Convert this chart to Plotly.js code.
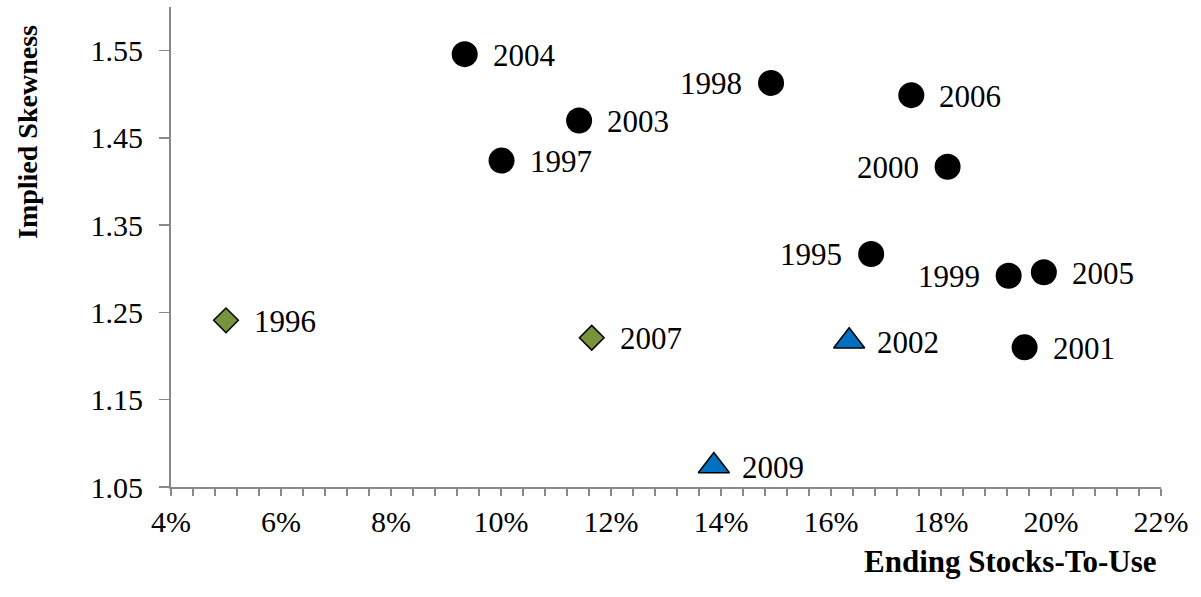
<!DOCTYPE html>
<html>
<head>
<meta charset="utf-8">
<script src="https://cdn.plot.ly/plotly-3.0.1.min.js"></script>
<style>html,body{margin:0;padding:0;background:#fff}#chart{width:1201px;height:597px}</style>
</head>
<body>
<div id="chart"></div>
<script>
// Circles (black)
const circleYears = ["1995","1997","1998","1999","2000","2001","2003","2004","2005","2006"];
const circleX = [0.1673,0.1001,0.1491,0.1923,0.1812,0.1952,0.1142,0.0934,0.1987,0.1746];
const circleY = [1.317,1.424,1.513,1.292,1.417,1.210,1.470,1.546,1.296,1.499];
const circleSide = ["left","right","left","left","left","right","right","right","right","right"];
// Diamonds (green)
const diamondYears = ["1996","2007"];
const diamondX = [0.0500,0.1165];
const diamondY = [1.241,1.221];
const diamondSide = ["right","right"];
// Triangles (blue)
const triYears = ["2002","2009"];
const triX = [0.1633,0.1387];
const triY = [1.217,1.074];
const triSide = ["right","right"];

const xTickVals = [0.04,0.06,0.08,0.10,0.12,0.14,0.16,0.18,0.20,0.22];
const yTickVals = [1.05,1.15,1.25,1.35,1.45,1.55];

const FONT = "'Liberation Serif','Times New Roman',serif";

const traces = [
  {x: circleX, y: circleY, mode: 'markers', type: 'scatter',
   marker: {symbol: 'circle', size: 26, color: '#000000', line: {width: 0}}, hoverinfo: 'skip'},
  {x: diamondX, y: diamondY, mode: 'markers', type: 'scatter',
   marker: {symbol: 'diamond', size: 19, color: '#77933C', line: {width: 1.5, color: '#000000'}}, hoverinfo: 'skip'},
  {x: triX, y: triY, mode: 'markers', type: 'scatter',
   marker: {symbol: 'triangle-up', size: 27, color: '#0070C0', line: {width: 1.5, color: '#000000'}}, hoverinfo: 'skip'}
];

const annotations = [];
function addLabels(years, xs, ys, sides) {
  years.forEach((t, i) => {
    const right = sides[i] === 'right';
    annotations.push({
      x: xs[i], y: ys[i], xref: 'x', yref: 'y', text: t, showarrow: false,
      xanchor: right ? 'left' : 'right', yanchor: 'middle',
      xshift: right ? 26 : -27, yshift: -1,
      font: {family: FONT, size: 31, color: '#000000'}
    });
  });
}
addLabels(circleYears, circleX, circleY, circleSide);
addLabels(diamondYears, diamondX, diamondY, diamondSide);
addLabels(triYears, triX, triY, triSide);

annotations.push({
  xref: 'paper', yref: 'paper', x: 1, y: 0, xanchor: 'right', yanchor: 'top',
  yshift: -55, xshift: -2, text: '<b>Ending Stocks-To-Use</b>', showarrow: false,
  font: {family: FONT, size: 31, color: '#000000'}
});
annotations.push({
  xref: 'paper', yref: 'paper', x: 0, y: 1, xanchor: 'center', yanchor: 'middle',
  xshift: -144, yshift: -125, textangle: -90, text: '<b>Implied Skewness</b>', showarrow: false,
  font: {family: FONT, size: 28, color: '#000000'}
});

const layout = {
  width: 1201, height: 597,
  paper_bgcolor: '#ffffff', plot_bgcolor: '#ffffff',
  margin: {l: 171, r: 40, t: 7, b: 110},
  showlegend: false,
  font: {family: FONT, size: 30, color: '#000000'},
  xaxis: {
    range: [0.04, 0.22], tickvals: xTickVals, tickformat: '.0%',
    showgrid: false, zeroline: false, showline: true, linecolor: '#898989', linewidth: 2,
    ticks: 'outside', ticklen: 7, tickwidth: 1.5, tickcolor: '#898989',
    minor: {dtick: 0.004, tick0: 0.04, ticks: 'outside', ticklen: 7, tickwidth: 1.5, tickcolor: '#898989', showgrid: false},
    tickfont: {family: FONT, size: 30, color: '#000000'}, fixedrange: true
  },
  yaxis: {
    range: [1.05, 1.60], tickvals: yTickVals, tickformat: '.2f',
    showgrid: false, zeroline: false, showline: true, linecolor: '#898989', linewidth: 2,
    ticks: 'outside', ticklen: 10, tickwidth: 1.5, tickcolor: '#898989', ticklabelstandoff: 10,
    tickfont: {family: FONT, size: 30, color: '#000000'}, fixedrange: true
  },
  annotations: annotations
};

Plotly.newPlot('chart', traces, layout, {displayModeBar: false, staticPlot: true});
</script>
</body>
</html>
